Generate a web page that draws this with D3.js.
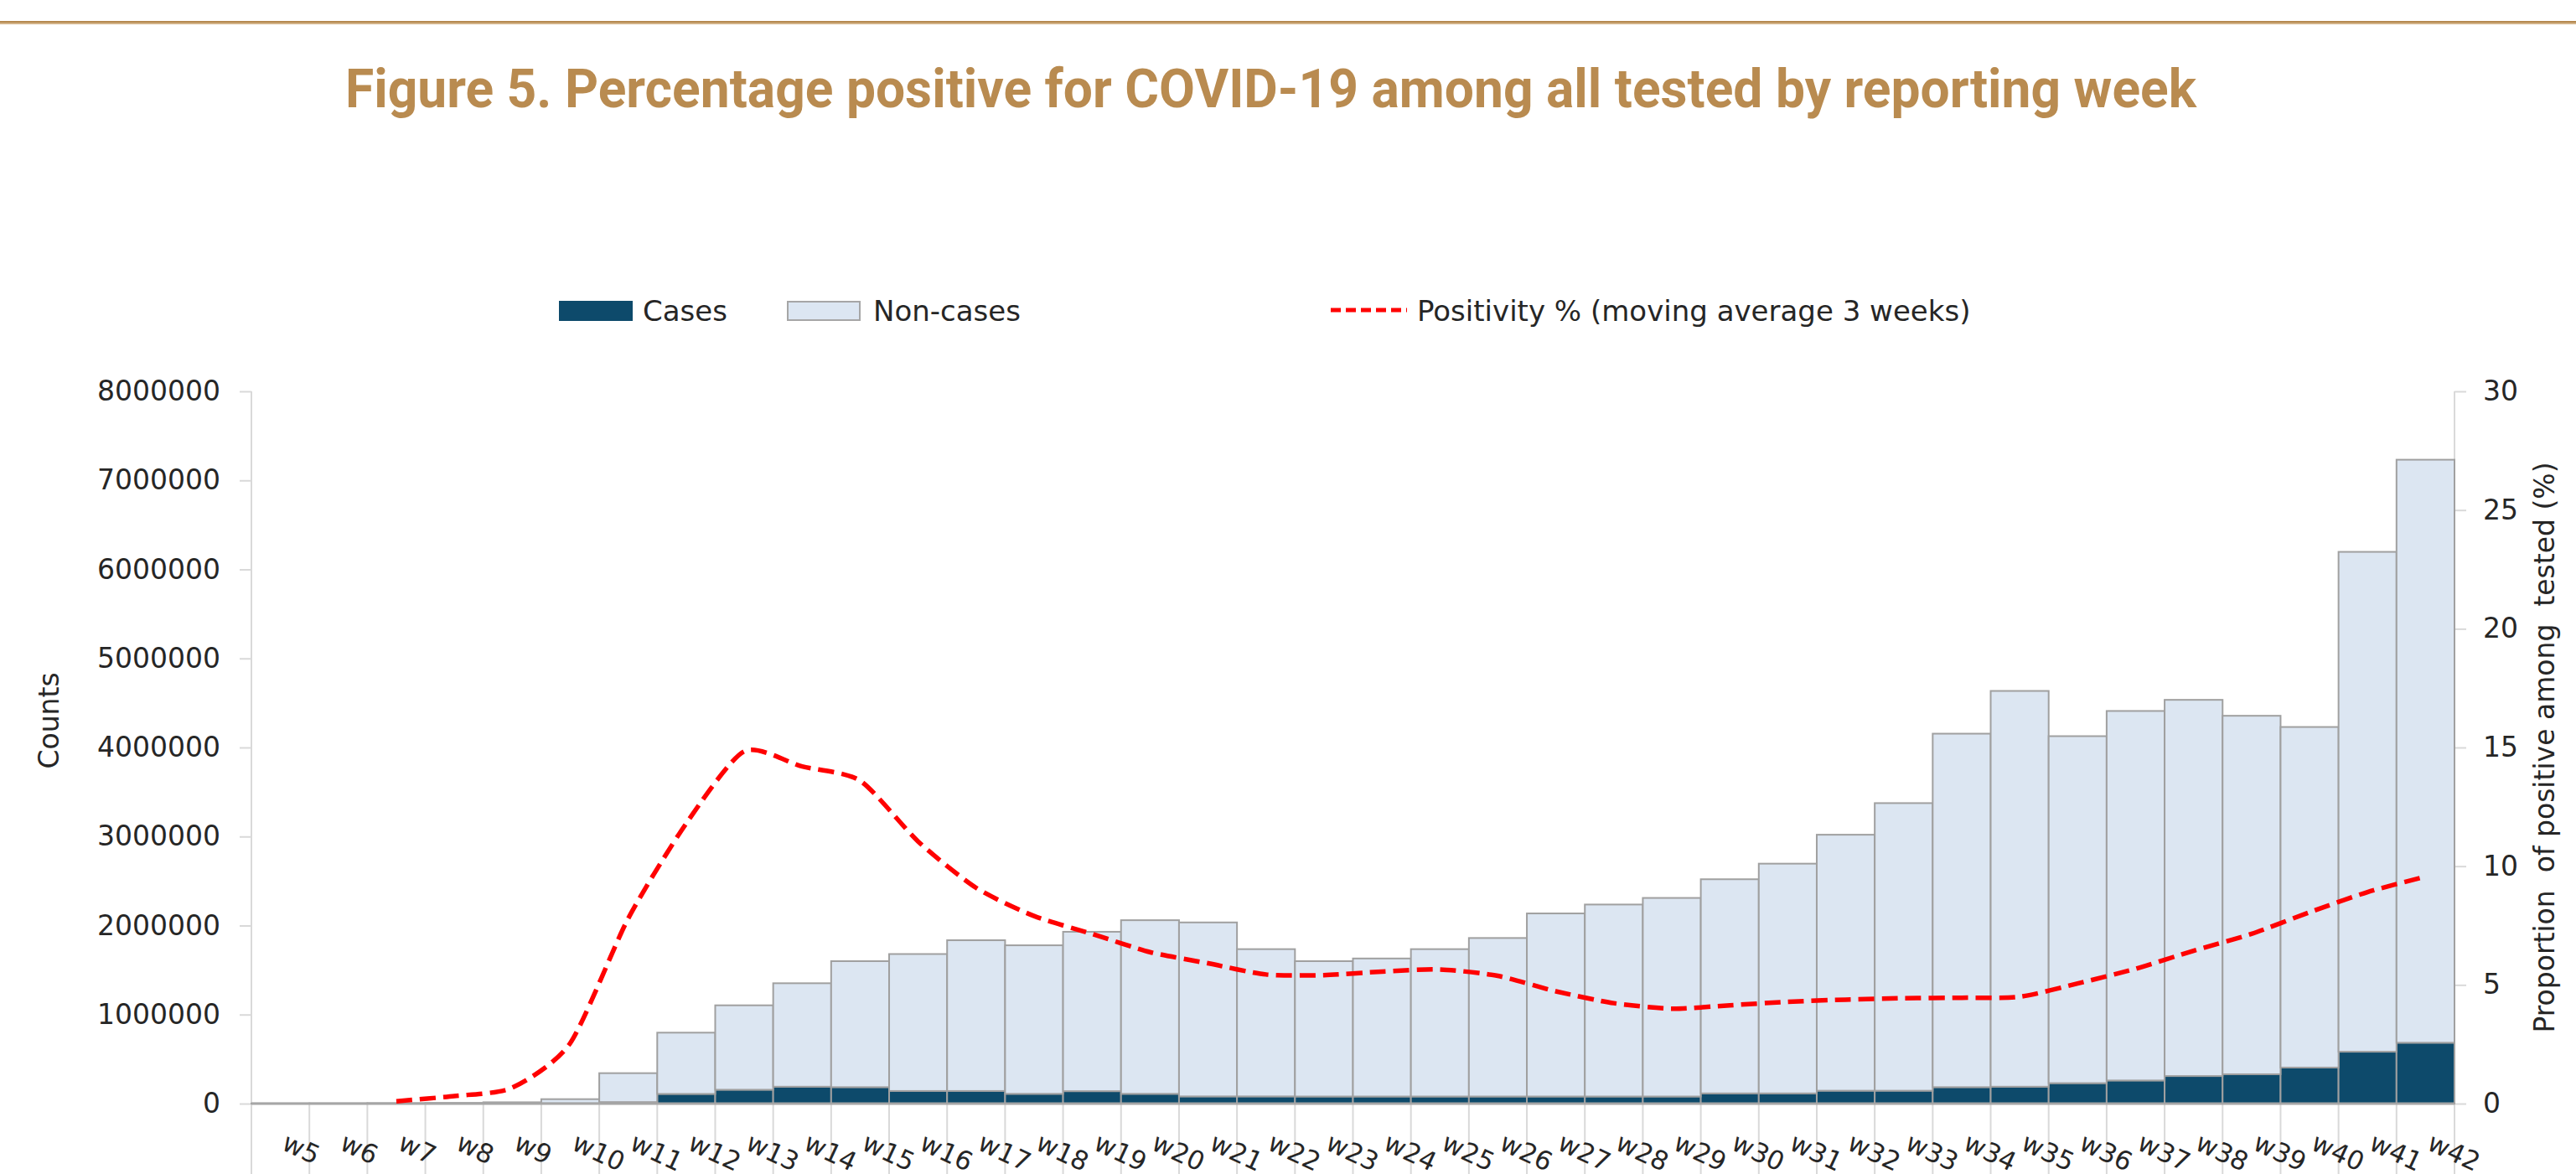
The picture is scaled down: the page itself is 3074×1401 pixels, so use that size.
<!DOCTYPE html>
<html>
<head>
<meta charset="utf-8">
<script src="https://cdn.jsdelivr.net/npm/d3@7"></script>
<style>
  body { margin: 0; background: #fff; }
  svg { display: block; }
  text { font-family: "DejaVu Sans", sans-serif; fill: #262626; }
</style>
</head>
<body>
<div id="chart"></div>
<script>
const weeks = ["w5", "w6", "w7", "w8", "w9", "w10", "w11", "w12", "w13", "w14",
  "w15", "w16", "w17", "w18", "w19", "w20", "w21", "w22", "w23", "w24",
  "w25", "w26", "w27", "w28", "w29", "w30", "w31", "w32", "w33", "w34",
  "w35", "w36", "w37", "w38", "w39", "w40", "w41", "w42"];

const cases = [0, 0, 0, 0, 200, 3000, 17000, 109000, 156000, 190000,
  185000, 142000, 142000, 110000, 140000, 110000, 81000, 81000, 80000, 80000,
  80000, 80000, 80000, 80000, 80000, 115000, 115000, 145000, 145000, 185000,
  190000, 230000, 260000, 310000, 330000, 405000, 583000, 684000];

const nonCases = [2000, 3000, 5000, 8000, 14800, 47000, 325000, 688000, 948000, 1162000,
  1415000, 1538000, 1693000, 1668000, 1790000, 1950000, 1954000, 1654000, 1520000, 1550000,
  1655000, 1780000, 2056000, 2156000, 2230000, 2405000, 2580000, 2875000, 3230000, 3970000,
  4445000, 3897000, 4150000, 4225000, 4026000, 3825000, 5614000, 6548000];

// positivity %, moving average 3 weeks
const positivity = [null, null, 0.1, 0.32, 0.67, 2.55, 7.8, 11.8, 14.84, 14.2,
  13.6, 11.04, 9.09, 7.9, 7.15, 6.38, 5.91, 5.44, 5.41, 5.56,
  5.65, 5.38, 4.73, 4.23, 4.0, 4.14, 4.29, 4.38, 4.44, 4.46,
  4.5, 5.06, 5.68, 6.44, 7.15, 8.06, 8.91, 9.56];

const countTicks = [0, 1000000, 2000000, 3000000, 4000000, 5000000, 6000000, 7000000, 8000000];
const pctTicks = [0, 5, 10, 15, 20, 25, 30];

const W = 3074, H = 1401;
const margin = {left: 300, right: 2929, top: 467, bottom: 1317};

const svg = d3.select("#chart").append("svg")
  .attr("width", W)
  .attr("height", H);

// top rule
svg.append("rect").attr("x", 0).attr("y", 25).attr("width", W).attr("height", 2).attr("fill", "#b5894f");
svg.append("rect").attr("x", 0).attr("y", 27).attr("width", W).attr("height", 2).attr("fill", "#d2b287");

svg.append("text")
  .attr("x", 412)
  .attr("y", 128)
  .attr("textLength", 2209)
  .attr("lengthAdjust", "spacingAndGlyphs")
  .style("font-family", "Roboto, sans-serif")
  .style("font-weight", "700")
  .style("font-size", "64px")
  .style("fill", "#b98b50")
  .text("Figure 5. Percentage positive for COVID-19 among all tested by reporting week");

let data = weeks.map(function (w, i) {
  return {week: w, cases: cases[i], nonCases: nonCases[i], pct: positivity[i]};
});

let x = d3.scaleBand()
  .domain(weeks)
  .range([margin.left, margin.right])
  .padding(0);

let y = d3.scaleLinear()
  .domain([0, 8000000])
  .range([margin.bottom, margin.top]);

let y2 = d3.scaleLinear()
  .domain([0, 30])
  .range([margin.bottom, margin.top]);

// vertical category separators below the axis
let edges = weeks.map(function (w) { return x(w); });
edges.push(x(weeks[weeks.length - 1]) + x.bandwidth());
svg.append("g").selectAll("line")
  .data(edges)
  .enter().append("line")
  .attr("x1", function (d) { return d; })
  .attr("x2", function (d) { return d; })
  .attr("y1", margin.bottom)
  .attr("y2", H + 5)
  .attr("stroke", "#d9d9d9")
  .attr("stroke-width", 2);

// left axis
let gLeft = svg.append("g")
  .attr("transform", "translate(" + margin.left + ",0)")
  .call(d3.axisLeft(y).tickValues(countTicks).tickSize(14).tickPadding(23).tickFormat(d3.format("d")));
gLeft.select(".domain").attr("stroke", "#d9d9d9").attr("stroke-width", 2)
  .attr("d", "M0," + margin.top + "V" + margin.bottom);
gLeft.selectAll(".tick line").attr("stroke", "#d9d9d9").attr("stroke-width", 2);
gLeft.selectAll(".tick text").style("font-size", "33px").style("font-family", "DejaVu Sans").attr("fill", "#262626");

// right axis
let gRight = svg.append("g")
  .attr("transform", "translate(" + margin.right + ",0)")
  .call(d3.axisRight(y2).tickValues(pctTicks).tickSize(14).tickPadding(20));
gRight.select(".domain").attr("stroke", "#d9d9d9").attr("stroke-width", 2)
  .attr("d", "M0," + margin.top + "V" + margin.bottom);
gRight.selectAll(".tick line").attr("stroke", "#d9d9d9").attr("stroke-width", 2);
gRight.selectAll(".tick text").style("font-size", "33px").style("font-family", "DejaVu Sans").attr("fill", "#262626");

// stacked bars
let stack = d3.stack().keys(["cases", "nonCases"]);
let series = stack(data);
let colors = {cases: "#0d4a6b", nonCases: "#dce6f2"};

svg.append("g").selectAll("g")
  .data(series)
  .enter().append("g")
  .attr("fill", function (s) { return colors[s.key]; })
  .selectAll("rect")
  .data(function (s) { return s; })
  .enter().append("rect")
  .attr("x", function (d) { return x(d.data.week); })
  .attr("y", function (d) { return y(d[1]); })
  .attr("width", x.bandwidth())
  .attr("height", function (d) { return y(d[0]) - y(d[1]); })
  .attr("stroke", "#a0a0a0")
  .attr("stroke-width", 2);

// x axis line
svg.append("line")
  .attr("x1", margin.left).attr("x2", margin.right)
  .attr("y1", margin.bottom).attr("y2", margin.bottom)
  .attr("stroke", "#a6a6a6")
  .attr("stroke-width", 3);

// positivity line
let line = d3.line()
  .defined(function (d) { return d.pct !== null; })
  .x(function (d) { return x(d.week) + x.bandwidth() / 2; })
  .y(function (d) { return y2(d.pct); })
  .curve(d3.curveCardinal.tension(0.3));

svg.append("path")
  .datum(data)
  .attr("d", line)
  .attr("fill", "none")
  .attr("stroke", "#ff0000")
  .attr("stroke-width", 5.5)
  .attr("stroke-dasharray", "19,9");

// x labels, rotated
svg.append("g").selectAll("text")
  .data(weeks)
  .enter().append("text")
  .attr("transform", function (d) {
    return "translate(" + (x(d) + x.bandwidth() / 2) + "," + 1371 + ") rotate(25)";
  })
  .style("font-size", "31px")
  .text(function (d) { return d; });

// axis titles
svg.append("text")
  .attr("transform", "translate(58,860) rotate(-90)")
  .attr("text-anchor", "middle")
  .attr("dy", "0.35em")
  .style("font-size", "33px")
  .text("Counts");

svg.append("text")
  .attr("transform", "translate(3036,892) rotate(-90)")
  .attr("text-anchor", "middle")
  .attr("dy", "0.35em")
  .style("font-size", "33px")
  .style("white-space", "pre")
  .text("Proportion  of positive among  tested (%)");

// legend
let legend = svg.append("g");
legend.append("rect")
  .attr("x", 667).attr("y", 359).attr("width", 88).attr("height", 24)
  .attr("fill", colors.cases);
legend.append("text").attr("x", 767).attr("y", 383).style("font-size", "34px").text("Cases");
legend.append("rect")
  .attr("x", 940).attr("y", 360).attr("width", 86).attr("height", 22)
  .attr("fill", colors.nonCases).attr("stroke", "#a6a6a6").attr("stroke-width", 2);
legend.append("text").attr("x", 1042).attr("y", 383).style("font-size", "34px").text("Non-cases");
legend.append("line")
  .attr("x1", 1588).attr("x2", 1679).attr("y1", 370).attr("y2", 370)
  .attr("stroke", "#ff0000").attr("stroke-width", 5).attr("stroke-dasharray", "12,6");
legend.append("text").attr("x", 1691).attr("y", 383).style("font-size", "34px")
  .text("Positivity % (moving average 3 weeks)");
</script>
</body>
</html>
